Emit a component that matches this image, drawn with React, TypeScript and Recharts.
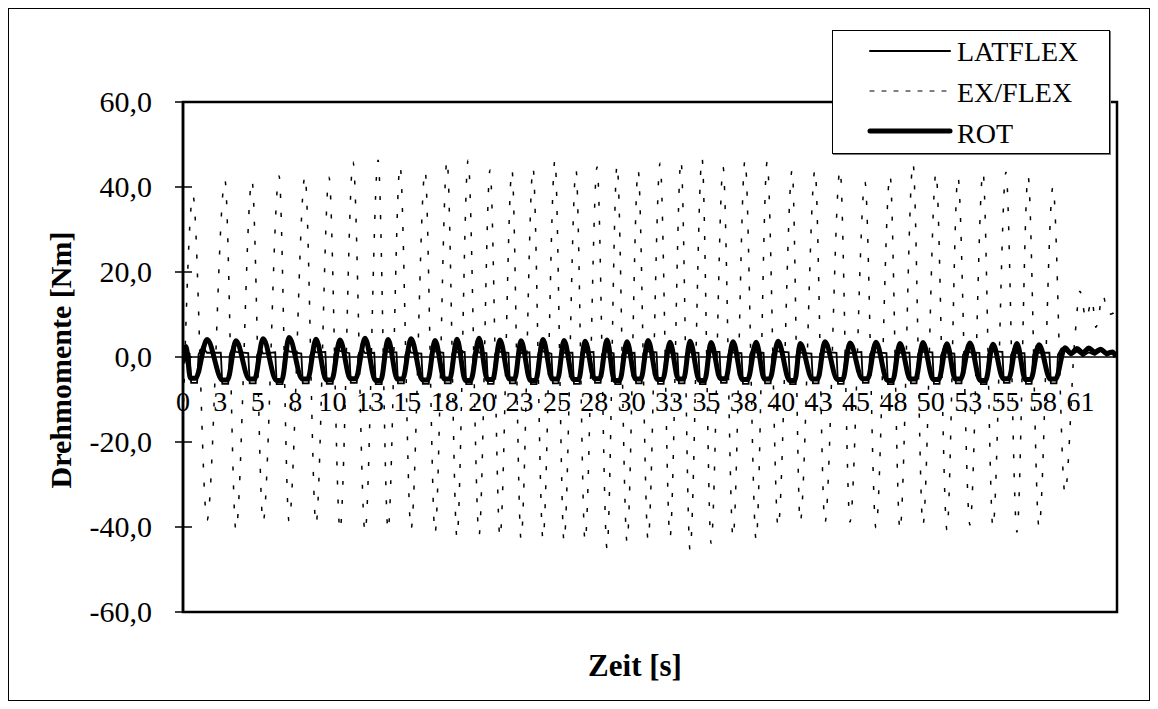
import React from "react";
import { LineChart, Line, XAxis, YAxis, ReferenceLine, ReferenceArea } from "recharts";

const FONT = '"Liberation Serif", "Times New Roman", serif';

const seriesNames = ["LATFLEX", "EX/FLEX", "ROT"];
const yTicks = [-60, -40, -20, 0, 20, 40, 60];
const xTicks = [
  0, 2.52, 5.04, 7.57, 10.09, 12.61, 15.13, 17.65, 20.18, 22.7, 25.22, 27.74, 30.26, 32.79, 35.31,
  37.83, 40.35, 42.87, 45.4, 47.92, 50.44, 52.96, 55.48, 58.01, 60.53,
];
const xTickLabels = [
  "0", "3", "5", "8", "10", "13", "15", "18", "20", "23", "25", "28", "30", "33", "35", "38", "40",
  "43", "45", "48", "50", "53", "55", "58", "61",
];

// [time s, torque Nm]
const exFlex: [number, number][] = [
  [0, -15], [0.67, 38.0], [1.62, -38.4], [2.83, 41.6], [3.57, -40.7], [4.65, 41.6], [5.4, -38.8],
  [6.48, 42.6], [7.15, -38.6], [8.23, 42.6], [8.97, -39.3], [9.85, 42.3], [10.59, -40.7],
  [11.47, 45.9], [12.28, -41.2], [13.16, 46.3], [13.83, -40.7], [14.64, 45.0], [15.38, -40.5],
  [16.33, 43.8], [17.0, -41.4], [17.81, 46.3], [18.48, -42.4], [19.23, 46.3], [19.97, -41.9],
  [20.71, 44.0], [21.38, -42.4], [22.19, 44.0], [22.8, -42.8], [23.61, 44.5], [24.28, -42.8],
  [25.09, 46.3], [25.7, -43.3], [26.51, 44.0], [27.12, -43.3], [27.93, 44.7], [28.6, -45.0],
  [29.28, 45.2], [29.95, -43.5], [30.7, 44.0], [31.37, -43.0], [32.18, 45.6], [32.85, -42.4],
  [33.59, 46.3], [34.2, -45.4], [35.01, 46.8], [35.62, -43.8], [36.43, 44.7], [37.1, -42.4],
  [37.91, 46.3], [38.66, -43.0], [39.4, 45.9], [40.14, -40.0], [41.09, 44.0], [41.63, -38.8],
  [42.63, 44.0], [43.3, -39.0], [44.32, 44.0], [44.99, -38.8], [46.0, 41.2], [46.74, -40.2],
  [47.69, 42.8], [48.36, -40.7], [49.24, 45.6], [49.91, -39.5], [50.79, 43.3], [51.53, -40.7],
  [52.27, 42.4], [53.08, -39.5], [53.96, 43.5], [54.63, -40.0], [55.51, 43.5], [56.25, -41.2],
  [57.0, 42.6], [57.74, -40.0], [58.68, 40.0], [59.49, -32.0], [60.17, 5.0], [60.5, 15.5],
  [60.91, 9.0], [61.31, 13.4], [61.58, 7.0], [62.05, 14.6], [62.39, 10.0], [62.73, 10.3], [62.93, 12.0],
];

const latFlex: [number, number][] = [
  [0, 0.2], [0.3, 1.2],
  [0.45, 0.8], [0.55, -6.1], [0.95, -6.1], [1.05, 0.6], [1.3, 2.4], [1.62, 1.0],
  [2.55, 1.0], [2.65, -6.3], [3.05, -6.3], [3.15, 0.4], [3.35, 2.6], [3.57, 1.2],
  [4.4, 0.9], [4.5, -6.2], [4.9, -6.2], [5.0, 0.5], [5.2, 2.2], [5.4, 0.8],
  [6.22, 1.1], [6.32, -6.4], [6.72, -6.4], [6.82, 0.7], [7.0, 2.7], [7.15, 1.3],
  [7.98, 0.8], [8.08, -6.2], [8.48, -6.2], [8.58, 0.3], [8.78, 2.3], [8.97, 1.1],
  [9.6, 1.2], [9.7, -6.3], [10.1, -6.3], [10.2, 0.6], [10.4, 2.5], [10.59, 1.4],
  [11.22, 0.9], [11.32, -6.1], [11.72, -6.1], [11.82, 0.4], [12.05, 2.2], [12.28, 0.9],
  [12.9, 1.0], [13.0, -6.4], [13.4, -6.4], [13.5, 0.6], [13.68, 2.6], [13.83, 1.2],
  [14.4, 1.1], [14.5, -6.2], [14.9, -6.2], [15.0, 0.5], [15.2, 2.3], [15.38, 1.0],
  [16.08, 0.8], [16.18, -6.3], [16.58, -6.3], [16.68, 0.4], [16.85, 2.4], [17.0, 1.3],
  [17.56, 1.0], [17.66, -6.2], [18.06, -6.2], [18.16, 0.7], [18.33, 2.2], [18.48, 1.1],
  [19.0, 1.2], [19.1, -6.4], [19.48, -6.4], [19.58, 0.5], [19.78, 2.5], [19.97, 1.0],
  [20.47, 0.9], [20.57, -6.3], [20.95, -6.3], [21.05, 0.6], [21.22, 2.3], [21.38, 1.2],
  [21.95, 1.0], [22.05, -6.2], [22.43, -6.2], [22.53, 0.4], [22.67, 2.1], [22.8, 0.9],
  [23.37, 1.1], [23.47, -6.4], [23.85, -6.4], [23.95, 0.5], [24.12, 2.6], [24.28, 1.3],
  [24.85, 0.8], [24.95, -6.2], [25.33, -6.2], [25.43, 0.3], [25.57, 2.2], [25.7, 1.0],
  [26.27, 1.0], [26.37, -6.3], [26.75, -6.3], [26.85, 0.6], [26.98, 2.4], [27.12, 1.1],
  [27.69, 1.2], [27.79, -6.1], [28.17, -6.1], [28.27, 0.5], [28.44, 2.3], [28.6, 1.2],
  [29.05, 0.9], [29.15, -6.4], [29.52, -6.4], [29.62, 0.4], [29.78, 2.5], [29.95, 0.9],
  [30.46, 1.0], [30.56, -6.2], [30.94, -6.2], [31.04, 0.7], [31.2, 2.2], [31.37, 1.3],
  [31.94, 1.1], [32.04, -6.3], [32.42, -6.3], [32.52, 0.5], [32.68, 2.4], [32.85, 1.0],
  [33.35, 0.8], [33.45, -6.2], [33.83, -6.2], [33.93, 0.4], [34.06, 2.1], [34.2, 1.1],
  [34.77, 1.0], [34.87, -6.4], [35.25, -6.4], [35.35, 0.6], [35.48, 2.5], [35.62, 1.2],
  [36.19, 1.2], [36.29, -6.1], [36.67, -6.1], [36.77, 0.3], [36.93, 2.3], [37.1, 1.0],
  [37.67, 0.9], [37.77, -6.3], [38.15, -6.3], [38.25, 0.5], [38.45, 2.4], [38.66, 1.1],
  [39.16, 1.0], [39.26, -6.2], [39.64, -6.2], [39.74, 0.6], [39.94, 2.2], [40.14, 1.3],
  [40.85, 1.1], [40.95, -6.4], [41.33, -6.4], [41.43, 0.4], [41.53, 2.0], [41.63, 1.0],
  [42.39, 0.8], [42.49, -6.2], [42.87, -6.2], [42.97, 0.5], [43.13, 2.4], [43.3, 1.2],
  [44.08, 1.0], [44.18, -6.3], [44.56, -6.3], [44.66, 0.7], [44.82, 2.3], [44.99, 0.9],
  [45.76, 1.2], [45.86, -6.1], [46.24, -6.1], [46.34, 0.4], [46.54, 2.5], [46.74, 1.1],
  [47.45, 0.9], [47.55, -6.4], [47.93, -6.4], [48.03, 0.5], [48.2, 2.2], [48.36, 1.0],
  [49.0, 1.0], [49.1, -6.2], [49.48, -6.2], [49.58, 0.6], [49.75, 2.4], [49.91, 1.2],
  [50.55, 1.1], [50.65, -6.3], [51.03, -6.3], [51.13, 0.3], [51.33, 2.3], [51.53, 1.0],
  [52.03, 0.8], [52.13, -6.2], [52.51, -6.2], [52.61, 0.5], [52.85, 2.1], [53.08, 1.1],
  [53.72, 1.0], [53.82, -6.4], [54.2, -6.4], [54.3, 0.6], [54.47, 2.5], [54.63, 1.3],
  [55.27, 1.2], [55.37, -6.1], [55.75, -6.1], [55.85, 0.4], [56.05, 2.2], [56.25, 0.9],
  [56.76, 0.9], [56.86, -6.3], [57.24, -6.3], [57.34, 0.5], [57.54, 2.3], [57.74, 1.0],
  [58.44, 1.0], [58.54, -6.2], [58.92, -6.2], [59.02, 0.6], [59.25, 2.0], [59.49, 1.5],
  [59.9, 0.4], [60.3, 1.3], [60.7, 0.2], [61.1, 1.1], [61.5, 0.5], [61.9, 1.4], [62.3, 0.3],
  [62.7, 0.9], [62.93, 0.1],
];

// thick curve, flat-bottomed dips at the block positions
const rot: [number, number][] = [
  [0, -1.0], [0.2, 2.5], [0.5, -5.0], [0.85, -5.0], [1.62, 4.1], [2.65, -5.4], [3.0, -5.4],
  [3.57, 3.8], [4.47, -5.2], [4.83, -5.2], [5.4, 4.3], [6.3, -5.5], [6.66, -5.5], [7.15, 4.6],
  [8.05, -5.2], [8.41, -5.2], [8.97, 4.2], [9.67, -5.4], [10.03, -5.4], [10.59, 4.0],
  [11.29, -5.1], [11.65, -5.1], [12.28, 4.4], [12.98, -5.5], [13.34, -5.5], [13.83, 4.1],
  [14.46, -5.2], [14.82, -5.2], [15.38, 4.3], [16.15, -5.4], [16.51, -5.4], [17.0, 3.9],
  [17.63, -5.2], [17.99, -5.2], [18.48, 4.2], [19.05, -5.5], [19.41, -5.5], [19.97, 4.4],
  [20.53, -5.3], [20.89, -5.3], [21.38, 4.0], [22.01, -5.2], [22.37, -5.2], [22.8, 3.8],
  [23.43, -5.5], [23.79, -5.5], [24.28, 4.1], [24.91, -5.2], [25.27, -5.2], [25.7, 3.9],
  [26.33, -5.3], [26.69, -5.3], [27.12, 3.7], [27.75, -5.1], [28.11, -5.1], [28.6, 4.0],
  [29.1, -5.5], [29.46, -5.5], [29.95, 3.6], [30.52, -5.2], [30.88, -5.2], [31.37, 3.9],
  [32.0, -5.3], [32.36, -5.3], [32.85, 3.5], [33.41, -5.2], [33.77, -5.2], [34.2, 3.7],
  [34.83, -5.5], [35.19, -5.5], [35.62, 3.4], [36.25, -5.1], [36.61, -5.1], [37.1, 3.6],
  [37.73, -5.3], [38.09, -5.3], [38.66, 3.5], [39.22, -5.2], [39.58, -5.2], [40.14, 3.7],
  [40.91, -5.5], [41.27, -5.5], [41.63, 3.2], [42.45, -5.2], [42.81, -5.2], [43.3, 3.6],
  [44.14, -5.3], [44.5, -5.3], [44.99, 3.3], [45.82, -5.1], [46.18, -5.1], [46.74, 3.5],
  [47.51, -5.5], [47.87, -5.5], [48.36, 3.2], [49.06, -5.2], [49.42, -5.2], [49.91, 3.4],
  [50.61, -5.3], [50.97, -5.3], [51.53, 3.1], [52.09, -5.2], [52.45, -5.2], [53.08, 3.3],
  [53.78, -5.5], [54.14, -5.5], [54.63, 3.0], [55.33, -5.1], [55.69, -5.1], [56.25, 3.2],
  [56.82, -5.3], [57.18, -5.3], [57.74, 2.9], [58.5, -5.2], [58.86, -5.2], [59.49, 2.2],
  [59.9, 0.8], [60.3, 2.0], [60.7, 1.0], [61.1, 2.1], [61.5, 1.2], [61.9, 1.8], [62.3, 0.9],
  [62.7, 1.2], [62.93, 0.0],
];

const toPoints = (pairs: [number, number][]) => pairs.map(([t, v]) => ({ t, v }));

// plot box inside the chart svg
const PLOT_H = 510;

const fmtY = (v: number) => v.toFixed(1).replace(".", ",");

function YTick(props: any) {
  const { x, y, payload } = props;
  return (
    <g>
      <line x1={x - 8} x2={x + 9} y1={y} y2={y} stroke="#000" strokeWidth={1.5} />
      <text x={x - 31} y={y + 10} textAnchor="end" fontSize={30} fontFamily={FONT} fill="#000">
        {fmtY(payload.value)}
      </text>
    </g>
  );
}

function XTick(props: any) {
  const { x, y, payload } = props;
  const i = xTicks.indexOf(payload.value);
  // labels hang under the zero line, not under the plot
  return (
    <text x={x} y={y - PLOT_H / 2 + 54} textAnchor="middle" fontSize={28} fontFamily={FONT} fill="#000">
      {xTickLabels[i]}
    </text>
  );
}

function LegendBox() {
  const rows = [
    { name: seriesNames[0], width: 2, dash: undefined },
    { name: seriesNames[1], width: 1.2, dash: "4 8" },
    { name: seriesNames[2], width: 5, dash: undefined },
  ];
  return (
    <div
      style={{
        position: "absolute",
        left: 823,
        top: 21,
        width: 278,
        height: 124,
        boxSizing: "border-box",
        border: "1px solid #000",
        boxShadow: "1px 1px 0 #777",
        background: "#fff",
      }}
    >
      <svg width={276} height={122}>
        {rows.map((r, i) => (
          <g key={r.name}>
            <line
              x1={37}
              x2={117}
              y1={20 + i * 40}
              y2={20 + i * 40}
              stroke="#000"
              strokeWidth={r.width}
              strokeDasharray={r.dash}
              strokeLinecap="round"
            />
            <text x={124} y={30 + i * 41} fontSize={28} fontFamily={FONT} fill="#000">
              {r.name}
            </text>
          </g>
        ))}
      </svg>
    </div>
  );
}

export default function App() {
  return (
    <div
      style={{
        position: "relative",
        width: 1142,
        height: 693,
        border: "1px solid #000",
        boxSizing: "border-box",
        background: "#fff",
        fontFamily: FONT,
      }}
    >
      <LineChart width={1140} height={691} margin={{ top: 93, right: 32, bottom: 58, left: 54 }}>
        <XAxis
          type="number"
          dataKey="t"
          domain={[0, 63]}
          allowDataOverflow
          ticks={xTicks}
          interval={0}
          tickSize={0}
          tickMargin={0}
          tickLine={false}
          axisLine={false}
          height={30}
          tick={(p: any) => <XTick {...p} />}
        />
        <YAxis
          type="number"
          domain={[-60, 60]}
          ticks={yTicks}
          interval={0}
          width={120}
          tickSize={0}
          tickMargin={0}
          tickLine={false}
          axisLine={{ stroke: "#000", strokeWidth: 2.5 }}
          tick={(p: any) => <YTick {...p} />}
        />
        <ReferenceArea x1={0} x2={63} y1={-60} y2={60} fill="none" stroke="#000" strokeWidth={2.5} />
        <ReferenceLine y={0} stroke="#000" strokeWidth={1.5} />
        <Line
          data={toPoints(latFlex)}
          dataKey="v"
          name={seriesNames[0]}
          type="linear"
          stroke="#000"
          strokeWidth={1.8}
          dot={false}
          isAnimationActive={false}
        />
        <Line
          data={toPoints(exFlex)}
          dataKey="v"
          name={seriesNames[1]}
          type="monotone"
          stroke="#000"
          strokeWidth={1.5}
          strokeDasharray="4 15"
          dot={false}
          isAnimationActive={false}
        />
        <Line
          data={toPoints(rot)}
          dataKey="v"
          name={seriesNames[2]}
          type="monotone"
          stroke="#000"
          strokeWidth={5}
          dot={false}
          isAnimationActive={false}
        />
      </LineChart>
      <div
        style={{
          position: "absolute",
          left: 52,
          top: 351,
          transform: "translate(-50%, -50%) rotate(-90deg)",
          whiteSpace: "nowrap",
          fontWeight: "bold",
          fontSize: 30,
          lineHeight: 1,
        }}
      >
        Drehmomente [Nm]
      </div>
      <div
        style={{
          position: "absolute",
          left: 626,
          top: 656,
          transform: "translate(-50%, -50%)",
          whiteSpace: "nowrap",
          fontWeight: "bold",
          fontSize: 31,
          lineHeight: 1,
        }}
      >
        Zeit [s]
      </div>
      <LegendBox />
    </div>
  );
}
